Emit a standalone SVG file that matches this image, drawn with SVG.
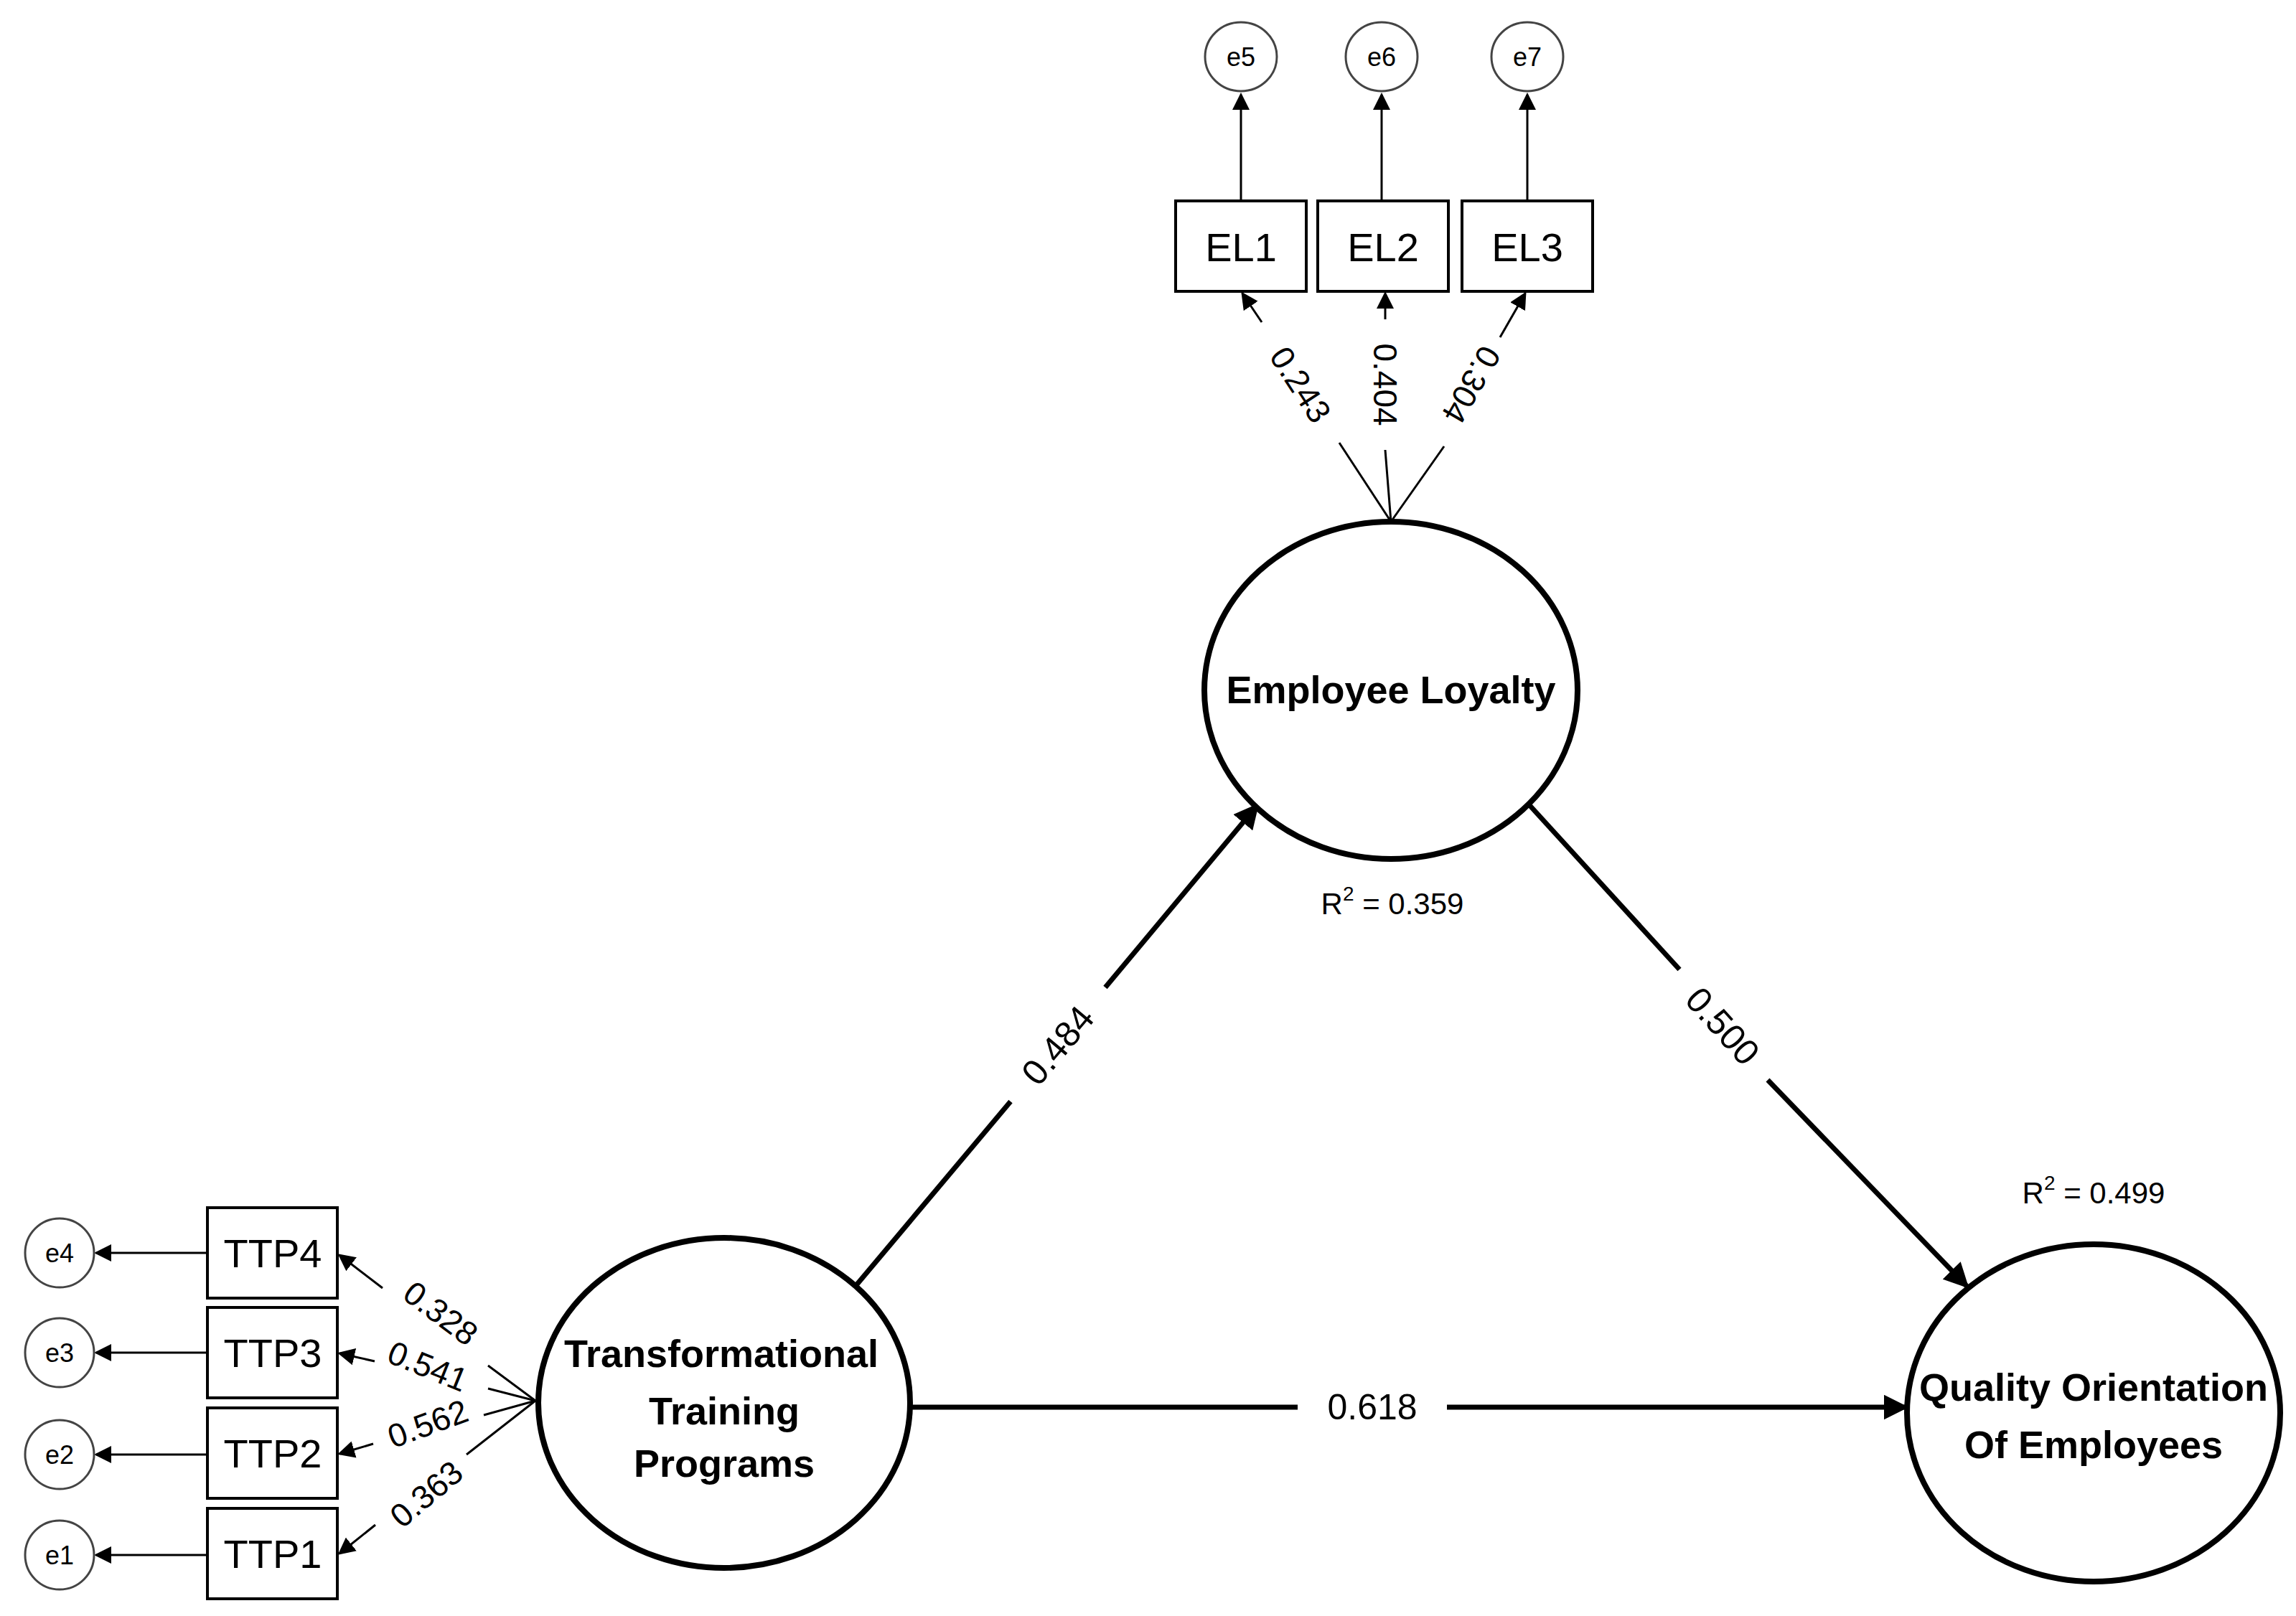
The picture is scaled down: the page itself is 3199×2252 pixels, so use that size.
<svg xmlns="http://www.w3.org/2000/svg" width="3199" height="2252" viewBox="0 0 3199 2252">
<style>
.thin{stroke:#000;stroke-width:3;fill:none}
.thick{stroke:#000;stroke-width:7;fill:none}
.lat{fill:#fff;stroke:#000;stroke-width:8}
.box{fill:#fff;stroke:#000;stroke-width:4}
.err{fill:#fff;stroke:#444;stroke-width:3}
.t{font-family:"Liberation Sans",Arial,sans-serif;text-anchor:middle;dominant-baseline:central;fill:#000}
.lb{font-family:"Liberation Sans Narrow","Liberation Sans",Arial,sans-serif;font-weight:bold;font-size:54px;text-anchor:middle;fill:#000}
</style>
<defs>
<marker id="a" markerWidth="8" markerHeight="8" refX="7" refY="4" orient="auto" markerUnits="strokeWidth"><path d="M0,0 L8,4 L0,8 z" fill="#000"/></marker>
<marker id="b" markerWidth="5" markerHeight="5" refX="4.5" refY="2.5" orient="auto" markerUnits="strokeWidth"><path d="M0,0 L5,2.5 L0,5 z" fill="#000"/></marker>
</defs>
<rect width="3199" height="2252" fill="#fff"/>
<g id="connectors">
<line class="thin" x1="1729" y1="280" x2="1729" y2="132" marker-end="url(#a)"/>
<line class="thin" x1="1925" y1="280" x2="1925" y2="132" marker-end="url(#a)"/>
<line class="thin" x1="2128" y1="280" x2="2128" y2="132" marker-end="url(#a)"/>
<line class="thin" x1="1758" y1="449" x2="1731" y2="409" marker-end="url(#a)"/>
<line class="thin" x1="1866" y1="617" x2="1938" y2="727"/>
<line class="thin" x1="1930" y1="445" x2="1930" y2="409" marker-end="url(#a)"/>
<line class="thin" x1="1930" y1="627" x2="1938" y2="727" stroke="#777"/>
<line class="thin" x1="2090" y1="470" x2="2125" y2="409" marker-end="url(#a)"/>
<line class="thin" x1="2012" y1="622" x2="1938" y2="727"/>
<line class="thin" x1="289" y1="1746" x2="134" y2="1746" marker-end="url(#a)"/>
<line class="thin" x1="289" y1="1885" x2="134" y2="1885" marker-end="url(#a)"/>
<line class="thin" x1="289" y1="2027" x2="134" y2="2027" marker-end="url(#a)"/>
<line class="thin" x1="289" y1="2167" x2="134" y2="2167" marker-end="url(#a)"/>
<line class="thin" x1="533" y1="1795" x2="473" y2="1749" marker-end="url(#a)"/>
<line class="thin" x1="680" y1="1903" x2="746" y2="1952"/>
<line class="thin" x1="522" y1="1897" x2="473" y2="1886" marker-end="url(#a)"/>
<line class="thin" x1="680" y1="1935" x2="746" y2="1952"/>
<line class="thin" x1="520" y1="2012" x2="473" y2="2026" marker-end="url(#a)"/>
<line class="thin" x1="674" y1="1972" x2="746" y2="1952"/>
<line class="thin" x1="523" y1="2125" x2="473" y2="2165" marker-end="url(#a)"/>
<line class="thin" x1="650" y1="2027" x2="746" y2="1952"/>
<line class="thick" x1="1193" y1="1791" x2="1408" y2="1535"/>
<line class="thick" x1="1540" y1="1376" x2="1752" y2="1122" marker-end="url(#b)"/>
<line class="thick" x1="2131" y1="1122" x2="2340" y2="1351"/>
<line class="thick" x1="2463" y1="1505" x2="2741" y2="1793" marker-end="url(#b)"/>
<line class="thick" x1="1269" y1="1961" x2="1808" y2="1961"/>
<line class="thick" x1="2016" y1="1961" x2="2656" y2="1961" marker-end="url(#b)"/>
</g>
<g id="labels">
<text class="t" font-size="46" transform="translate(1812,536) rotate(57)">0.243</text>
<text class="t" font-size="46" transform="translate(1930,536) rotate(90)">0.404</text>
<text class="t" font-size="46" transform="translate(2050,536) rotate(120)">0.304</text>
<text class="t" font-size="46" transform="translate(614,1830) rotate(37)">0.328</text>
<text class="t" font-size="46" transform="translate(596,1904) rotate(22)">0.541</text>
<text class="t" font-size="46" transform="translate(596,1984) rotate(-20)">0.562</text>
<text class="t" font-size="46" transform="translate(594,2082) rotate(-40)">0.363</text>
<text class="t" font-size="50" transform="translate(1474,1457) rotate(-50)">0.484</text>
<text class="t" font-size="50" transform="translate(2400,1430) rotate(48)">0.500</text>
<text class="t" font-size="50" x="1912" y="1961">0.618</text>
<text class="t" font-size="42" x="1940" y="1259">R<tspan font-size="28" dy="-14">2</tspan><tspan dy="14"> = 0.359</tspan></text>
<text class="t" font-size="42" x="2917" y="1662">R<tspan font-size="28" dy="-14">2</tspan><tspan dy="14"> = 0.499</tspan></text>
</g>
<g id="e5"><ellipse class="err" cx="1729" cy="79" rx="50" ry="48"/><text class="t" font-size="36" x="1729" y="79">e5</text></g>
<g id="e6"><ellipse class="err" cx="1925" cy="79" rx="50" ry="48"/><text class="t" font-size="36" x="1925" y="79">e6</text></g>
<g id="e7"><ellipse class="err" cx="2128" cy="79" rx="50" ry="48"/><text class="t" font-size="36" x="2128" y="79">e7</text></g>
<g id="EL1"><rect class="box" x="1638" y="280" width="182" height="126"/><text class="t" font-size="56" x="1729" y="344">EL1</text></g>
<g id="EL2"><rect class="box" x="1836" y="280" width="182" height="126"/><text class="t" font-size="56" x="1927" y="344">EL2</text></g>
<g id="EL3"><rect class="box" x="2037" y="280" width="182" height="126"/><text class="t" font-size="56" x="2128" y="344">EL3</text></g>
<g id="e4"><ellipse class="err" cx="83" cy="1746" rx="48" ry="48"/><text class="t" font-size="36" x="83" y="1746">e4</text></g>
<g id="e3"><ellipse class="err" cx="83" cy="1885" rx="48" ry="48"/><text class="t" font-size="36" x="83" y="1885">e3</text></g>
<g id="e2"><ellipse class="err" cx="83" cy="2027" rx="48" ry="48"/><text class="t" font-size="36" x="83" y="2027">e2</text></g>
<g id="e1"><ellipse class="err" cx="83" cy="2167" rx="48" ry="48"/><text class="t" font-size="36" x="83" y="2167">e1</text></g>
<g id="TTP4"><rect class="box" x="289" y="1683" width="181" height="126"/><text class="t" font-size="56" x="380" y="1746">TTP4</text></g>
<g id="TTP3"><rect class="box" x="289" y="1822" width="181" height="126"/><text class="t" font-size="56" x="380" y="1885">TTP3</text></g>
<g id="TTP2"><rect class="box" x="289" y="1962" width="181" height="126"/><text class="t" font-size="56" x="380" y="2025">TTP2</text></g>
<g id="TTP1"><rect class="box" x="289" y="2102" width="181" height="126"/><text class="t" font-size="56" x="380" y="2165">TTP1</text></g>
<g id="EL"><ellipse class="lat" cx="1938" cy="962" rx="260" ry="235"/><text class="lb" x="1938" y="980">Employee Loyalty</text></g>
<g id="TTP"><ellipse class="lat" cx="1009" cy="1955" rx="259" ry="230"/><text class="lb" x="1005" y="1905">Transformational</text><text class="lb" x="1009" y="1985">Training</text><text class="lb" x="1009" y="2058">Programs</text></g>
<g id="QOE"><ellipse class="lat" cx="2917" cy="1969" rx="260" ry="235"/><text class="lb" x="2917" y="1952">Quality  Orientation</text><text class="lb" x="2917" y="2032">Of Employees</text></g>
</svg>
